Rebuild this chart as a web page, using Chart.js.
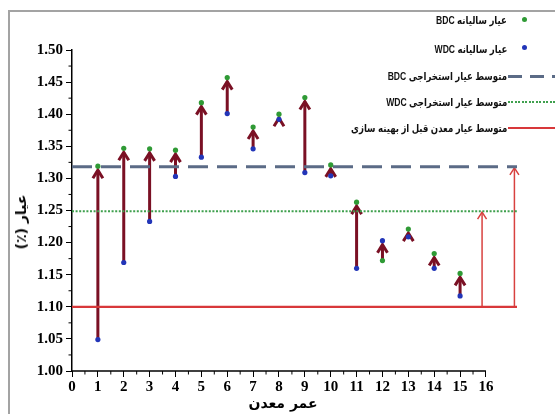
<!DOCTYPE html>
<html>
<head>
<meta charset="utf-8">
<script src="https://cdn.jsdelivr.net/npm/chart.js@4.4.1/dist/chart.umd.min.js"></script>
<style>
  html, body { margin: 0; padding: 0; background: #fff; }
  #wrap { position: relative; width: 555px; height: 414px; overflow: hidden; }
  #frame { position: absolute; left: 8px; top: 10px; width: 700px; height: 600px;
           border-left: 2px solid #a3a3a3; border-top: 2px solid #a3a3a3; }
  canvas { position: absolute; left: 0; top: 0; }
  .leg { position: absolute; right: 48px; direction: rtl; white-space: nowrap;
         font: bold 11px "Liberation Sans", "DejaVu Sans", sans-serif; color: #111; line-height: 12px;
         transform: scaleX(0.78); transform-origin: right center; }
  .dot { position: absolute; width: 5px; height: 5px; border-radius: 50%; }
  .sym { position: absolute; left: 508px; width: 47px; }
  .title { position: absolute; direction: rtl; white-space: nowrap;
           font: bold 14px "DejaVu Sans", sans-serif; color: #000; }
</style>
</head>
<body>
<div id="wrap">
  <div id="frame"></div>
  <canvas id="grade-chart" width="555" height="414"></canvas>

  <div class="leg" style="top:14px">عیار سالیانه BDC</div>
  <div class="dot" style="left:522px; top:17px; background:#2f9a35"></div>
  <div class="leg" style="top:43px">عیار سالیانه WDC</div>
  <div class="dot" style="left:522px; top:45px; background:#2235b8"></div>
  <div class="leg" style="top:70px">متوسط عیار استخراجی BDC</div>
  <div class="sym" style="top:75px; height:3px; background:repeating-linear-gradient(to right,#5b6b86 0 14px,transparent 14px 22px)"></div>
  <div class="leg" style="top:96px">متوسط عیار استخراجی WDC</div>
  <div class="sym" style="top:101px; height:2px; background:repeating-linear-gradient(to right,#3fa04e 0 2px,transparent 2px 3.5px)"></div>
  <div class="leg" style="top:122px">متوسط عیار معدن  قبل از بهینه سازی</div>
  <div class="sym" style="top:127px; height:2px; background:#d8383a"></div>

  <div class="title" style="left:21px; top:222px; transform:translate(-50%,-50%) rotate(-90deg)">عیار (٪)</div>
  <div class="title" style="left:283px; top:403px; transform:translate(-50%,-50%)">عمر معدن</div>
</div>

<script>
// mine life (years) and annual grades (%)
const years = [1, 2, 3, 4, 5, 6, 7, 8, 9, 10, 11, 12, 13, 14, 15];
const bdcGrade = [1.319, 1.347, 1.346, 1.344, 1.418, 1.457, 1.380, 1.400, 1.426, 1.321, 1.263, 1.172, 1.221, 1.183, 1.152];
const wdcGrade = [1.049, 1.169, 1.233, 1.303, 1.333, 1.401, 1.346, 1.392, 1.309, 1.304, 1.160, 1.203, 1.209, 1.160, 1.117];

// average grades drawn as horizontal lines
const bdcMean = 1.318;
const wdcMean = 1.249;
const preOptMean = 1.10;

// arrows showing the gain over the pre-optimisation mean
const gainArrowX = [15.85, 17.1];
const gainArrowTo = [wdcMean, bdcMean];

const xTicks = [0, 1, 2, 3, 4, 5, 6, 7, 8, 9, 10, 11, 12, 13, 14, 15, 16];
const yTicks = [1.00, 1.05, 1.10, 1.15, 1.20, 1.25, 1.30, 1.35, 1.40, 1.45, 1.50];
const xMax = 17.2;

function drawArrow(ctx, px, yFrom, yTip, color, width, halfW, headH) {
    ctx.strokeStyle = color;
    ctx.lineWidth = width;
    ctx.lineJoin = 'miter';
    ctx.beginPath();
    ctx.moveTo(px, yFrom);
    ctx.lineTo(px, yTip);
    ctx.stroke();
    ctx.beginPath();
    ctx.moveTo(px - halfW, yTip + headH);
    ctx.lineTo(px, yTip);
    ctx.lineTo(px + halfW, yTip + headH);
    ctx.stroke();
}

const arrowPlugin = {
    id: 'gradeArrows',
    beforeDatasetsDraw(chart) {
        const { ctx, scales: { x, y } } = chart;
        ctx.save();
        years.forEach((yr, i) => {
            const lo = Math.min(bdcGrade[i], wdcGrade[i]);
            const hi = Math.max(bdcGrade[i], wdcGrade[i]);
            drawArrow(ctx, x.getPixelForValue(yr), y.getPixelForValue(lo),
                y.getPixelForValue(hi) + 4, '#7a1024', 3, 5, 8);
        });
        gainArrowX.forEach((gx, i) => {
            drawArrow(ctx, x.getPixelForValue(gx), y.getPixelForValue(preOptMean),
                y.getPixelForValue(gainArrowTo[i]) + 1, '#d8413f', 1.5, 4.5, 7);
        });
        ctx.restore();
    }
};

// x axis line stops at 16 although the plot runs further; plus minor ticks
const axisPlugin = {
    id: 'axisExtras',
    afterDraw(chart) {
        const { ctx, scales: { x, y } } = chart;
        const base = y.getPixelForValue(yTicks[0]);
        const left = x.getPixelForValue(xTicks[0]);
        ctx.save();
        ctx.strokeStyle = '#000';
        ctx.lineWidth = 1.5;
        ctx.beginPath();
        ctx.moveTo(left - 0.75, base);
        ctx.lineTo(x.getPixelForValue(xTicks[xTicks.length - 1]), base);
        ctx.stroke();
        ctx.lineWidth = 1;
        ctx.beginPath();
        for (let i = 0; i < xTicks.length - 1; i++) {
            const px = x.getPixelForValue((xTicks[i] + xTicks[i + 1]) / 2);
            ctx.moveTo(px, base);
            ctx.lineTo(px, base + 3.5);
        }
        for (let i = 0; i < yTicks.length - 1; i++) {
            const py = y.getPixelForValue((yTicks[i] + yTicks[i + 1]) / 2);
            ctx.moveTo(left, py);
            ctx.lineTo(left - 3.5, py);
        }
        ctx.stroke();
        ctx.restore();
    }
};

const hLine = (v) => [{ x: 0, y: v }, { x: xMax, y: v }];

new Chart(document.getElementById('grade-chart').getContext('2d'), {
    type: 'scatter',
    data: {
        datasets: [{
            label: 'BDC',
            data: years.map((yr, i) => ({ x: yr, y: bdcGrade[i] })),
            backgroundColor: '#2f9a35',
            borderColor: '#2f9a35',
            pointRadius: 2.6,
            borderWidth: 0
        }, {
            label: 'WDC',
            data: years.map((yr, i) => ({ x: yr, y: wdcGrade[i] })),
            backgroundColor: '#2235b8',
            borderColor: '#2235b8',
            pointRadius: 2.6,
            borderWidth: 0
        }, {
            type: 'line',
            data: hLine(bdcMean),
            borderColor: '#5b6b86',
            borderWidth: 3,
            borderDash: [20, 9],
            pointRadius: 0
        }, {
            type: 'line',
            data: hLine(wdcMean),
            borderColor: '#3fa04e',
            borderWidth: 2,
            borderDash: [2, 1.6],
            pointRadius: 0
        }, {
            type: 'line',
            data: hLine(preOptMean),
            borderColor: '#d8383a',
            borderWidth: 2.2,
            pointRadius: 0
        }]
    },
    options: {
        responsive: false,
        devicePixelRatio: 1,
        animation: false,
        layout: { padding: { top: 50, right: 38, left: 0, bottom: 0 } },
        plugins: { legend: { display: false }, tooltip: { enabled: false } },
        scales: {
            x: {
                type: 'linear',
                min: 0,
                max: xMax,
                afterBuildTicks: (scale) => { scale.ticks = xTicks.map(v => ({ value: v })); },
                afterFit: (scale) => { scale.height = 43; },
                border: { display: false },
                grid: { drawOnChartArea: false, tickLength: 6, color: '#000', lineWidth: 1 },
                ticks: {
                    padding: 1,
                    color: '#000',
                    autoSkip: false,
                    maxRotation: 0,
                    font: { family: 'Liberation Serif', weight: 'bold', size: 15 }
                }
            },
            y: {
                min: 1.0,
                max: 1.5,
                afterBuildTicks: (scale) => { scale.ticks = yTicks.map(v => ({ value: v })); },
                afterFit: (scale) => { scale.width = 72; },
                border: { display: true, color: '#000', width: 1.5 },
                grid: { drawOnChartArea: false, tickLength: 6, color: '#000', lineWidth: 1 },
                ticks: {
                    padding: 3,
                    color: '#000',
                    callback: (v) => Number(v).toFixed(2),
                    font: { family: 'Liberation Serif', weight: 'bold', size: 15 }
                }
            }
        }
    },
    plugins: [arrowPlugin, axisPlugin]
});
</script>
</body>
</html>
